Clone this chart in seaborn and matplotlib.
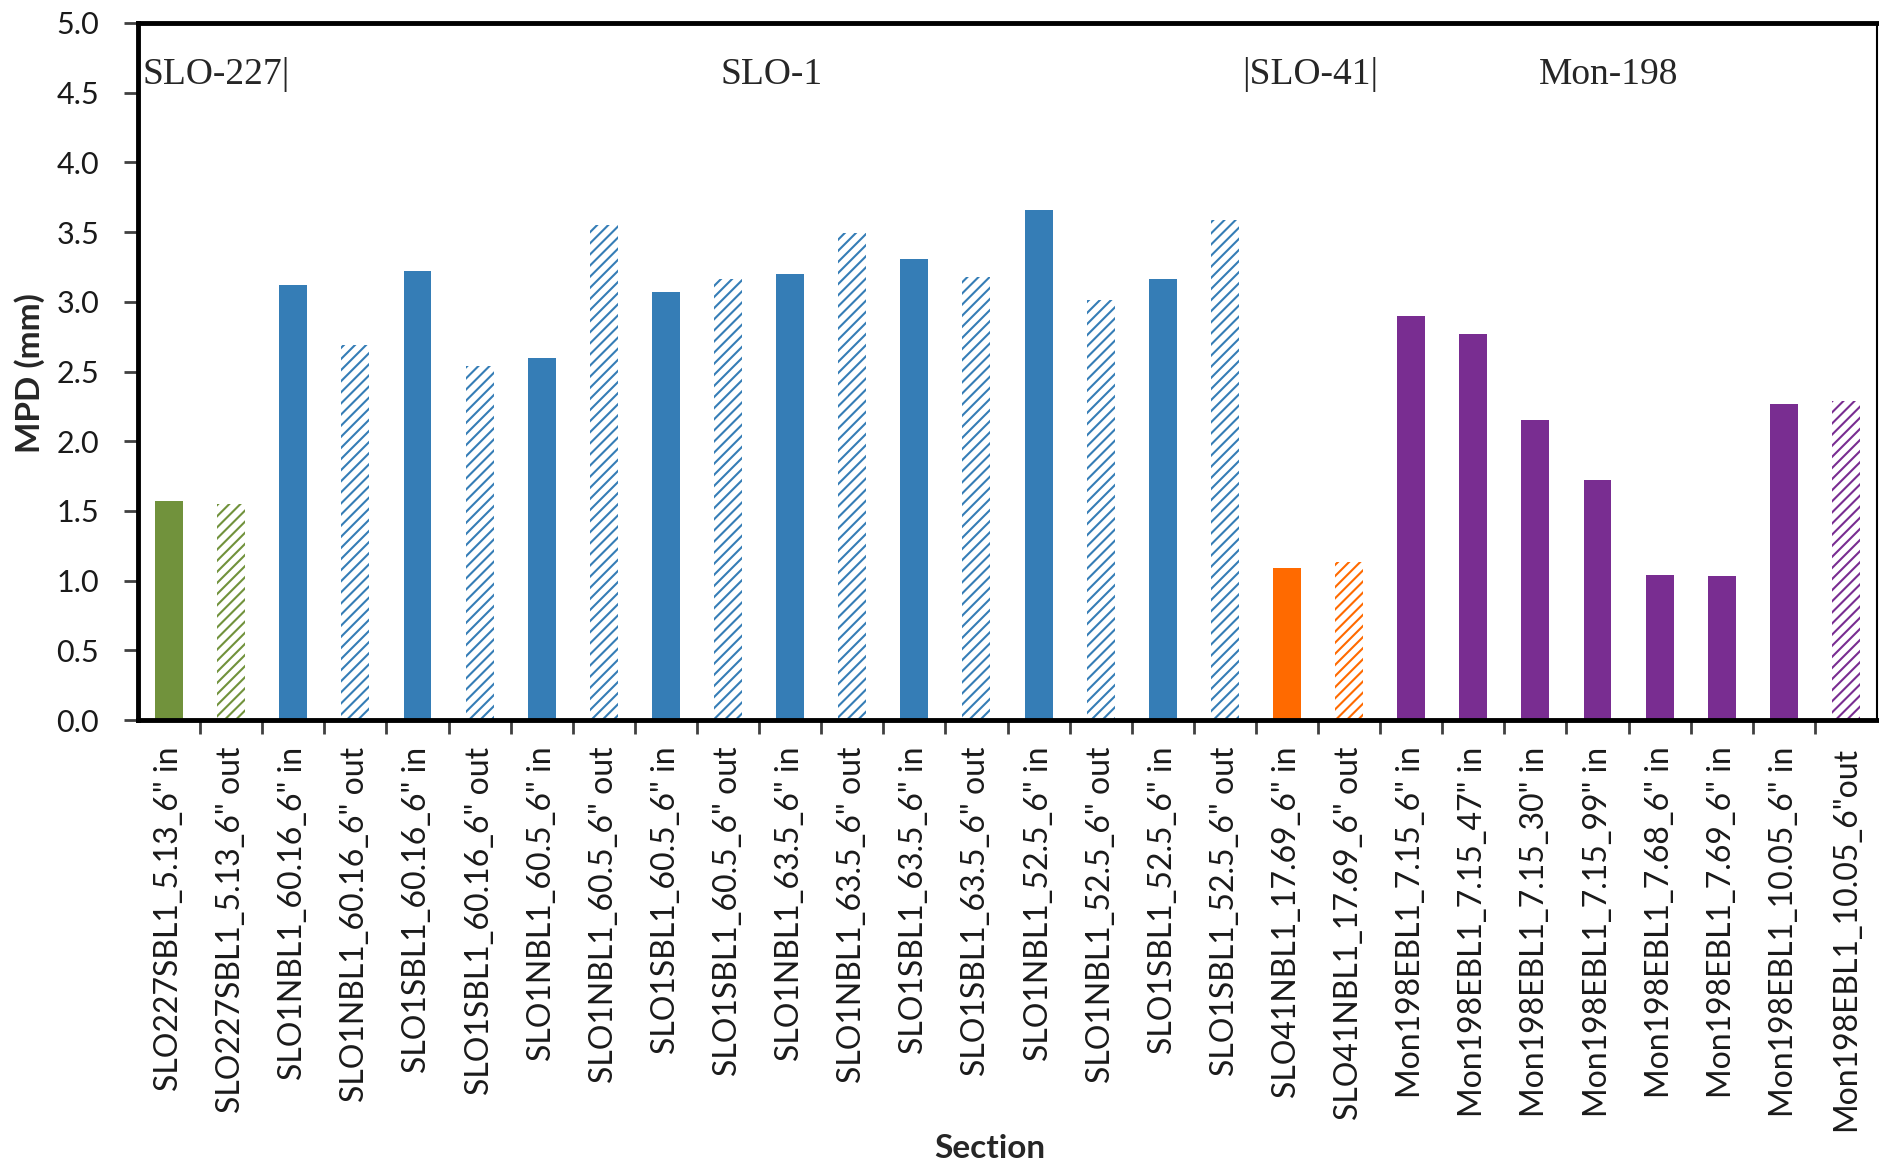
import matplotlib
matplotlib.use("Agg")
import matplotlib.pyplot as plt
import seaborn as sns
import pandas as pd

# Section names, in display order
sections = [
    'SLO227SBL1_5.13_6" in', 'SLO227SBL1_5.13_6" out',
    'SLO1NBL1_60.16_6" in', 'SLO1NBL1_60.16_6" out',
    'SLO1SBL1_60.16_6" in', 'SLO1SBL1_60.16_6" out',
    'SLO1NBL1_60.5_6" in', 'SLO1NBL1_60.5_6" out',
    'SLO1SBL1_60.5_6" in', 'SLO1SBL1_60.5_6" out',
    'SLO1NBL1_63.5_6" in', 'SLO1NBL1_63.5_6" out',
    'SLO1SBL1_63.5_6" in', 'SLO1SBL1_63.5_6" out',
    'SLO1NBL1_52.5_6" in', 'SLO1NBL1_52.5_6" out',
    'SLO1SBL1_52.5_6" in', 'SLO1SBL1_52.5_6" out',
    'SLO41NBL1_17.69_6" in', 'SLO41NBL1_17.69_6" out',
    'Mon198EBL1_7.15_6" in', 'Mon198EBL1_7.15_47" in',
    'Mon198EBL1_7.15_30" in', 'Mon198EBL1_7.15_99" in',
    'Mon198EBL1_7.68_6" in', 'Mon198EBL1_7.69_6" in',
    'Mon198EBL1_10.05_6" in', 'Mon198EBL1_10.05_6"out',
]

# Mean profile depth (mm)
mpd = [
    1.57, 1.55,
    3.12, 2.69,
    3.22, 2.54,
    2.60, 3.55,
    3.07, 3.16,
    3.20, 3.49,
    3.31, 3.18,
    3.66, 3.01,
    3.16, 3.59,
    1.09, 1.13,
    2.90, 2.77,
    2.15, 1.72,
    1.04, 1.03,
    2.27, 2.29,
]

# Route each section belongs to
route = (["SLO-227"] * 2 + ["SLO-1"] * 16 + ["SLO-41"] * 2 + ["Mon-198"] * 8)

# Wheel path: inside (solid) or outside (hatched)
wheel_path = ["out" if s.endswith("out") else "in" for s in sections]

route_colors = {
    "SLO-227": "#71923C",
    "SLO-1": "#357DB6",
    "SLO-41": "#FF6A00",
    "Mon-198": "#792D91",
}

route_labels = ["SLO-227|", "SLO-1", "|SLO-41|", "Mon-198"]

df = pd.DataFrame({"Section": sections, "MPD": mpd, "Route": route, "Path": wheel_path})

sns.set_style("white")
plt.rcParams["font.family"] = ["Lato", "DejaVu Sans"]
plt.rcParams["hatch.linewidth"] = 1.5

fig = plt.figure(figsize=(18.79, 11.65), dpi=100)
ax = fig.add_axes([138 / 1879, 1 - 720 / 1165, (1877 - 138) / 1879, (720 - 23) / 1165])

bar_palette = [route_colors[r] for r in route]
sns.barplot(data=df, x="Section", y="MPD", hue="Section", palette=bar_palette,
            legend=False, width=0.45, saturation=1, ax=ax)

# Outside-wheel-path bars: white fill with diagonal hatching in the route colour
for patch, path, r in zip(ax.patches, wheel_path, route):
    patch.set_linewidth(0)
    if path == "out":
        patch.set_facecolor("white")
        patch.set_edgecolor(route_colors[r])
        patch.set_hatch("///")

ax.set_xlim(-0.5, len(sections) - 0.5)
ax.set_ylim(0, 5.0)
ax.set_yticks([i * 0.5 for i in range(11)])
ax.set_yticklabels([f"{i * 0.5:.1f}" for i in range(11)])

# Tick marks between categories, labels at category centres
ax.set_xticks([i - 0.5 for i in range(1, len(sections))], minor=True)
ax.tick_params(axis="x", which="minor", length=10, width=2, direction="out", color="#404040", bottom=True)
ax.tick_params(axis="x", which="major", length=0, pad=19, labelsize=23, rotation=90)
ax.tick_params(axis="y", which="major", length=10, width=2, direction="out", color="#404040",
               pad=18, labelsize=22, left=True)
for lbl in ax.get_xticklabels():
    lbl.set_verticalalignment("top")
for lbl in ax.get_xticklabels() + ax.get_yticklabels():
    lbl.set_color("#1a1a1a")

for side in ["left", "bottom", "top"]:
    ax.spines[side].set_linewidth(3.5)
    ax.spines[side].set_color("black")
ax.spines["right"].set_linewidth(1.5)
ax.spines["right"].set_color("black")

ax.set_xlabel("")
ax.set_ylabel("")
fig.text(30 / 1879, 1 - 373 / 1165, "MPD (mm)", rotation=90, ha="center", va="center",
         fontsize=24, fontweight="bold")
fig.text(990 / 1879, 1 - 1148 / 1165, "Section", ha="center", va="center",
         fontsize=24, fontweight="bold")

# Route annotations along the top of the plot
serif = ["Liberation Serif", "DejaVu Serif"]
ax.text(-0.42, 4.63, route_labels[0], ha="left", va="center", fontsize=27, family=serif)
ax.text(9.70, 4.63, route_labels[1], ha="center", va="center", fontsize=27, family=serif)
ax.text(18.37, 4.63, route_labels[2], ha="center", va="center", fontsize=27, family=serif)
ax.text(23.17, 4.63, route_labels[3], ha="center", va="center", fontsize=27, family=serif)

fig.savefig("out.png", dpi=100)
